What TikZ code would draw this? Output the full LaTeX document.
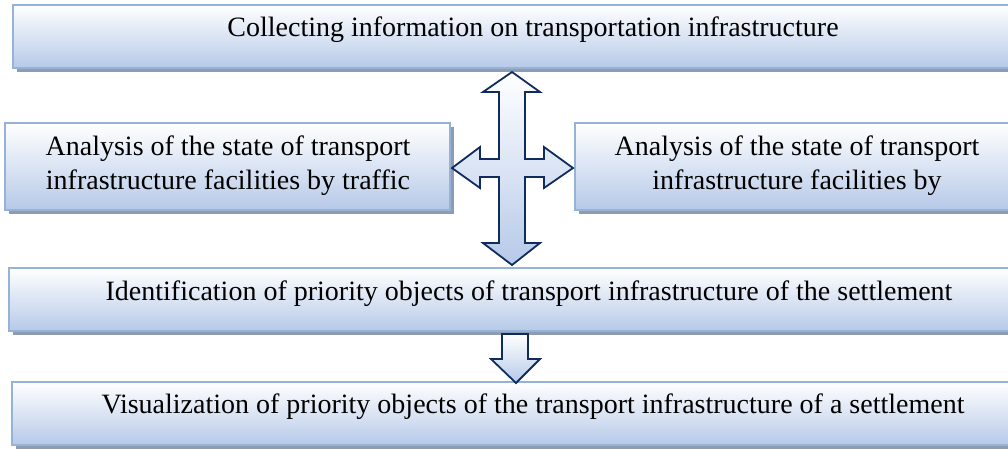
\documentclass[tikz,border=0pt]{standalone}
\usepackage{fontspec}
\setmainfont{Liberation Serif}
\usetikzlibrary{shadows}
\definecolor{bordc}{HTML}{95B3D7}
\definecolor{botc}{HTML}{B6C9E8}
\definecolor{shadc}{HTML}{8E9BB0}
\definecolor{navy}{HTML}{102C5C}
\tikzset{
  box/.style={draw=bordc, line width=1.6pt, top color=white, bottom color=botc,
    inner sep=0pt, rectangle,
    drop shadow={shadow xshift=4pt, shadow yshift=-4pt, fill=shadc, opacity=1}},
  txt/.style={font=\fontsize{28}{34}\selectfont, align=center, inner sep=0pt},
  blockarrow/.style={draw=navy, line width=1.8pt, line join=miter, top color=white, bottom color=botc}
}
\begin{document}
\begin{tikzpicture}[x=1pt,y=-1pt]
\fill[white] (0,0) rectangle (1008,448);
\clip (0,0) rectangle (1008,448);
\useasboundingbox (0,0) rectangle (1008,448);

\node[box, minimum width=1037pt, minimum height=63pt] (b1) at (531.5,36.5) {};
\node[box, minimum width=445pt, minimum height=87pt] (bl) at (227.5,166.5) {};
\node[box, minimum width=445pt, minimum height=87pt] (br) at (797.5,166.5) {};
\node[box, minimum width=1041pt, minimum height=63pt] (b3) at (529.5,299.5) {};
\node[box, minimum width=1042pt, minimum height=63pt] (b4) at (533,413.5) {};

\node[txt] (t1) at (533,30) {Collecting information on transportation infrastructure};
\node[txt] (tl) at (228,166) {Analysis of the state of transport\\infrastructure facilities by traffic};
\node[txt] (tr) at (797,166) {Analysis of the state of transport\\infrastructure facilities by};
\node[txt] (t3) at (529,294) {Identification of priority objects of transport infrastructure of the settlement};
\node[txt] (t4) at (533,407) {Visualization of priority objects of the transport infrastructure of a settlement};

\draw[blockarrow] (512,72) -- (540,92) -- (525,92) -- (525,159) -- (544,159) -- (544,147) -- (573,168)
  -- (544,188) -- (544,177) -- (525,177) -- (525,243) -- (540,243) -- (512,265) -- (483,243)
  -- (499,243) -- (499,177) -- (480,177) -- (480,188) -- (452,168) -- (480,147) -- (480,159)
  -- (499,159) -- (499,92) -- (483,92) -- cycle;

\draw[blockarrow] (502,334) -- (528,334) -- (528,359) -- (540,359) -- (516,383) -- (491,359) -- (502,359) -- cycle;
\end{tikzpicture}
\end{document}
